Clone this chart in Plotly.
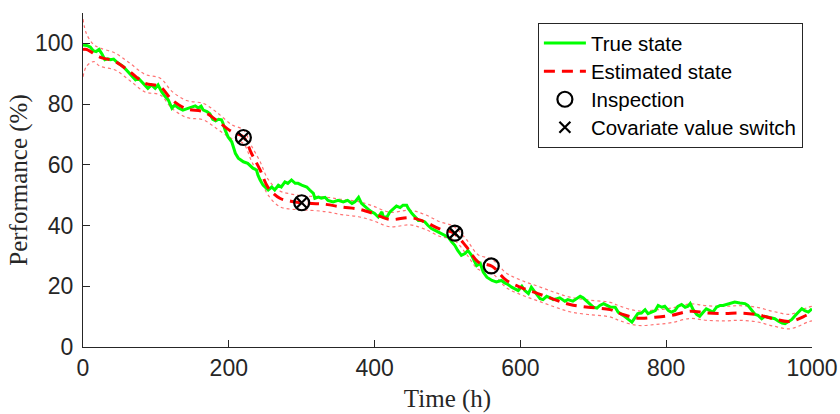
import plotly.graph_objects as go

# ---------------- data ----------------
true_t = [0, 5, 10, 14, 18, 22, 26, 30, 34, 38, 42, 48, 55, 62, 69, 72, 76, 80, 85, 89,
          94, 99, 103, 108, 113, 117, 122, 126, 131, 137, 144, 150, 154, 158, 162, 165, 170, 174, 178, 182,
          186, 190, 192, 195, 199, 204, 206, 209, 213, 220, 226, 233, 238, 240, 243, 247, 254, 259, 263, 268,
          272, 277, 281, 286, 291, 295, 300, 307, 311, 316, 318, 323, 327, 332, 336, 343, 350, 357, 363, 369,
          373, 378, 382, 387, 391, 396, 400, 405, 410, 412, 417, 421, 426, 430, 435, 439, 444, 446, 451, 455,
          460, 464, 469, 473, 478, 483, 487, 492, 497, 501, 506, 510, 514, 519, 524, 528, 533, 537, 540, 545,
          549, 554, 561, 567, 574, 579, 583, 588, 593, 597, 602, 606, 611, 615, 620, 627, 631, 636, 641, 645,
          650, 654, 661, 665, 672, 677, 682, 686, 691, 695, 700, 705, 709, 714, 718, 723, 730, 734, 741, 748,
          753, 757, 761, 766, 771, 775, 780, 785, 789, 794, 798, 803, 807, 812, 816, 821, 826, 830, 833, 837,
          842, 846, 851, 855, 860, 864, 869, 874, 878, 883, 888, 894, 901, 908, 912, 917, 922, 926, 931, 935,
          940, 945, 949, 954, 959, 963, 967, 972, 977, 981, 986, 990, 995, 1000]
true_v = [99.5, 99.3, 98.8, 97.6, 97.3, 98.0, 96.5, 94.6, 94.9, 94.6, 94.8, 93.5, 92.4, 90.7, 89.0, 88.0, 88.5, 87.4, 86.3, 85.2,
          86.3, 85.2, 86.3, 84.0, 82.4, 81.4, 78.6, 79.7, 78.7, 78.0, 78.6, 79.0, 79.4, 78.7, 79.3, 78.0, 77.5, 76.8, 75.0, 74.5,
          75.0, 74.8, 73.7, 71.4, 69.2, 67.6, 66.0, 63.8, 62.2, 61.0, 60.5, 58.9, 58.3, 56.6, 55.0, 53.3, 51.7, 52.7, 51.7, 53.3,
          52.7, 54.4, 53.9, 55.0, 53.9, 53.9, 53.3, 52.7, 51.7, 50.6, 49.0, 49.4, 49.0, 49.3, 48.3, 47.8, 48.3, 47.8, 48.3, 47.3,
          47.8, 49.3, 47.3, 46.1, 45.4, 44.5, 44.0, 42.8, 44.5, 42.8, 42.8, 44.5, 45.7, 46.4, 45.9, 46.7, 46.7, 45.7, 44.0, 42.8,
          41.7, 41.7, 41.2, 40.1, 39.0, 38.4, 37.9, 37.4, 36.8, 36.2, 34.6, 33.5, 31.8, 30.2, 30.8, 31.8, 30.2, 28.5, 26.8, 27.5,
          24.7, 23.0, 21.9, 21.4, 21.9, 21.0, 20.6, 19.7, 19.2, 18.6, 20.0, 18.6, 17.6, 19.7, 18.1, 15.9, 15.6, 16.7, 16.2, 15.6,
          15.9, 16.2, 15.1, 15.6, 15.1, 15.9, 16.7, 16.2, 15.1, 14.0, 13.1, 12.8, 13.7, 14.3, 13.7, 13.2, 13.1, 11.5, 10.4, 9.0,
          8.2, 9.6, 11.0, 11.2, 12.3, 11.0, 11.5, 12.0, 13.7, 13.1, 13.4, 12.0, 11.5, 12.0, 13.4, 14.0, 13.1, 13.4, 14.3, 12.3,
          10.7, 10.1, 11.5, 12.6, 12.0, 11.5, 13.1, 13.7, 13.7, 14.0, 14.5, 14.8, 14.5, 14.3, 13.7, 12.0, 10.7, 10.4, 9.3, 10.1,
          9.8, 9.6, 9.3, 8.5, 7.9, 7.7, 8.2, 9.0, 10.4, 11.5, 12.6, 12.0, 11.5, 12.6]

est_t = [0, 5, 23, 44, 64, 85, 106, 122, 142, 165, 183, 204, 220, 231, 243, 254, 270, 285, 300, 332,
         355, 378, 398, 421, 449, 469, 490, 508, 526, 542, 561, 581, 602, 624, 647, 668, 693, 723, 737, 761,
         785, 807, 833, 855, 880, 901, 924, 947, 970, 995, 1000]
est_v = [98.0, 98.0, 95.5, 94.0, 90.7, 86.9, 85.7, 81.4, 78.4, 77.5, 74.7, 70.9, 69.2, 63.8, 58.3, 52.5, 49.0, 48.0, 47.5, 47.0,
         46.1, 45.4, 44.0, 42.0, 42.6, 41.2, 38.8, 37.6, 33.0, 28.0, 26.6, 21.9, 19.5, 17.6, 15.6, 14.0, 13.1, 12.3, 11.0, 9.5,
         9.8, 10.4, 11.8, 11.2, 11.0, 11.2, 10.7, 9.3, 8.4, 10.7, 11.0]

bound_t = [0, 5, 15, 23, 44, 64, 85, 106, 122, 142, 165, 183, 204, 220, 231, 243, 254, 270, 285, 300,
           332, 355, 378, 398, 421, 449, 469, 490, 508, 526, 542, 561, 581, 602, 624, 647, 668, 693, 723, 737,
           761, 785, 807, 833, 855, 880, 901, 924, 947, 970, 995, 1000]
upper_v = [108.0, 103.0, 99.5, 98.5, 96.8, 93.5, 89.8, 88.5, 84.2, 81.2, 80.2, 77.4, 73.2, 71.5, 66.3, 61.0, 55.2, 51.4, 50.4, 49.8,
           49.4, 48.6, 47.9, 46.4, 44.4, 45.0, 43.6, 41.2, 39.8, 35.4, 30.4, 28.9, 24.3, 21.9, 20.0, 18.0, 16.4, 15.5, 14.7, 13.4,
           11.9, 12.2, 12.8, 14.2, 13.6, 13.4, 13.6, 13.1, 11.7, 10.8, 13.1, 13.4]
lower_v = [89.0, 92.5, 94.0, 92.5, 91.2, 87.8, 84.0, 83.0, 78.6, 75.6, 74.8, 72.0, 68.6, 67.0, 61.3, 55.6, 50.0, 46.2, 45.4, 45.2,
           44.6, 43.6, 42.9, 41.6, 39.6, 40.2, 38.8, 36.4, 35.4, 30.6, 25.6, 24.3, 19.5, 17.1, 15.2, 13.2, 11.6, 10.7, 9.9, 8.6,
           7.1, 7.4, 8.0, 9.4, 8.8, 8.6, 8.8, 8.3, 6.9, 6.0, 8.3, 8.6]

insp_t = [220, 300, 510, 560]
insp_v = [69.0, 47.5, 37.5, 26.7]
switch_t = [220, 300, 510]
switch_v = [69.0, 47.5, 37.5]

x_ticks = [0, 200, 400, 600, 800, 1000]
y_ticks = [0, 20, 40, 60, 80, 100]

legend_names = ["True state", "Estimated state", "Inspection", "Covariate value switch"]

# ---------------- figure ----------------
AX = "#262626"
LEG_SPAN = '<span style="font-size:20.5px">{}</span>'
fig = go.Figure()

fig.add_trace(go.Scatter(x=bound_t, y=upper_v, mode="lines", showlegend=False, hoverinfo="skip",
                         line=dict(color="rgba(255,0,0,0.55)", width=1.2, dash="dot", shape="spline")))
fig.add_trace(go.Scatter(x=bound_t, y=lower_v, mode="lines", showlegend=False, hoverinfo="skip",
                         line=dict(color="rgba(255,0,0,0.55)", width=1.2, dash="dot", shape="spline")))
fig.add_trace(go.Scatter(x=true_t, y=true_v, mode="lines", name=LEG_SPAN.format(legend_names[0]),
                         line=dict(color="#00ff00", width=3)))
fig.add_trace(go.Scatter(x=est_t, y=est_v, mode="lines", name=LEG_SPAN.format(legend_names[1]),
                         line=dict(color="#ff0000", width=3, dash="11px,7px", shape="spline")))
fig.add_trace(go.Scatter(x=insp_t, y=insp_v, mode="markers", name=LEG_SPAN.format(legend_names[2]),
                         marker=dict(symbol="circle-open", size=15, color="black",
                                     line=dict(width=2.2, color="black"))))
fig.add_trace(go.Scatter(x=switch_t, y=switch_v, mode="markers", name=LEG_SPAN.format(legend_names[3]),
                         marker=dict(symbol="x-thin-open", size=11, color="black",
                                     line=dict(width=2.2, color="black"))))

fig.update_layout(
    width=840, height=414,
    margin=dict(l=83, r=28, t=13, b=67),
    paper_bgcolor="white", plot_bgcolor="white",
    showlegend=True,
    legend=dict(x=0.624, y=0.97, xanchor="left", yanchor="top",
                bgcolor="white", bordercolor=AX, borderwidth=1,
                font=dict(family="Liberation Sans, Arial", size=19.3, color="black"),
                itemwidth=42, tracegroupgap=0),
    xaxis=dict(range=[0, 1000], tickvals=x_ticks, ticktext=[str(v) for v in x_ticks],
               ticks="inside", ticklen=7, tickwidth=1, tickcolor=AX, automargin=False,
               showline=True, linecolor=AX, linewidth=1.2, showgrid=False, zeroline=False,
               tickfont=dict(family="Liberation Sans, Arial", size=23, color=AX),
               title=dict(text="Time (h)", standoff=9,
                          font=dict(family="Liberation Serif, Times New Roman", size=25, color=AX))),
    yaxis=dict(range=[0, 110], tickvals=y_ticks, ticktext=[str(v) for v in y_ticks],
               ticks="inside", ticklen=7, tickwidth=1, tickcolor=AX, automargin=False,
               ticklabelstandoff=4,
               showline=True, linecolor=AX, linewidth=1.2, showgrid=False, zeroline=False,
               tickfont=dict(family="Liberation Sans, Arial", size=23, color=AX),
               title=dict(text="Performance (%)", standoff=0,
                          font=dict(family="Liberation Serif, Times New Roman", size=25, color=AX))),
)

fig.write_html("out.html", config={"displayModeBar": False},
               post_script="document.body.style.margin='0';document.body.style.overflow='hidden';")
